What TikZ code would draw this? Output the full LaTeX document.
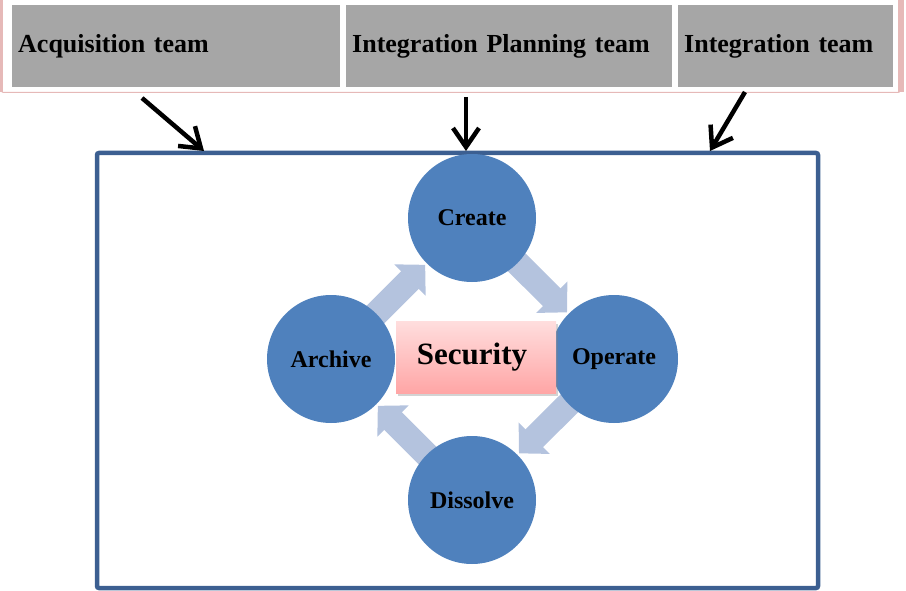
\documentclass[tikz,border=0pt]{standalone}
\usepackage{fontspec}
\setmainfont{Liberation Serif}
\usetikzlibrary{positioning}
\usetikzlibrary{arrows.meta}
\usetikzlibrary{shadows}
\usetikzlibrary{backgrounds}
\definecolor{teamgray}{HTML}{A6A6A6}
\definecolor{edgepink}{HTML}{E6B9B8}
\definecolor{framecol}{HTML}{3C5F91}
\definecolor{phasecol}{HTML}{4F81BD}
\definecolor{flowcol}{HTML}{B4C3DE}
\tikzset{node distance=141pt, % Centre to centre distance of the phases
phase/.style={ % Sets the properties for each phase circle
circle,
fill=phasecol,
minimum size=128pt,
inner sep=0pt,
font=\fontsize{24}{24}\selectfont\bfseries},
team/.style={ % Grey header boxes
rectangle,
fill=teamgray,
anchor=north west,
minimum height=82pt,
inner xsep=6pt,
align=left,
font=\fontsize{26}{26}\selectfont\bfseries},
feed/.style={ % Black arrows from the teams
draw,
line width=4.5pt,
-{Straight Barb[length=19pt,width=26pt]}},
flow/.style={ % Block arrows of the cycle
draw=flowcol,
line width=25pt,
shorten <=-16pt,
shorten >=2pt,
-{Triangle[width=43pt,length=21.5pt]}}}

\begin{document}
\begin{tikzpicture}[x=1pt,y=-1pt]
                \useasboundingbox (0,0) rectangle (906,591);
                % header strip
                \fill[edgepink] (0,0) rectangle (3,92);
                \fill[edgepink] (898,0) rectangle (904,92);
                \draw[edgepink, line width=1pt, rounded corners=2pt] (1.5,0) -- (1.5,92.5) -- (900,92.5) -- (900,0);
                \node[team, text width=316pt] (acq) at (12,5) {\raisebox{-2pt}{Acquisition team}};
                \node[team, text width=314pt] (plan) at (346,5) {\raisebox{-2pt}{Integration Planning team}};
                \node[team, text width=203pt] (integ) at (678,5) {\raisebox{-2pt}{Integration team}};

                % outer frame
                \draw[framecol, line width=4.5pt, rounded corners=2pt] (97,153) rectangle (818,588);

                % phases
                \node[phase] (create) at (472,218) {Create};
                \node[phase, below of = create, xshift=142pt] (operate) {Operate};
                \node[phase, below of = create, yshift=-141pt] (dissolve) {Dissolve};
                \node[phase, below of = create, xshift=-141pt] (archive) {Archive};

                \node[rectangle, minimum width=160pt, minimum height=72pt,
                      top color=red!13, bottom color=red!35!white,
                      drop shadow={opacity=0.35, shadow xshift=2pt, shadow yshift=-3pt},
                      font=\fontsize{31}{31}\selectfont\bfseries] (security) at (476,357) {\hspace*{-8pt}\raisebox{2pt}{Security}};

                \begin{scope}[on background layer]
                \draw[flow] (archive) -- (create);
                \draw[flow] (create) -- (operate);
                \draw[flow] (operate) -- (dissolve);
                \draw[flow] (dissolve) -- (archive);
                \end{scope}

                % team arrows
                \coordinate (acq out) at (142,98);
                \coordinate (acq in) at (204,151);
                \coordinate (plan out) at (466,97);
                \coordinate (plan in) at (466,151);
                \coordinate (integ out) at (745,92);
                \coordinate (integ in) at (710,151);
                \draw[feed] (acq out) -- (acq in);
                \draw[feed] (plan out) -- (plan in);
                \draw[feed] (integ out) -- (integ in);


            \end{tikzpicture}
\end{document}
